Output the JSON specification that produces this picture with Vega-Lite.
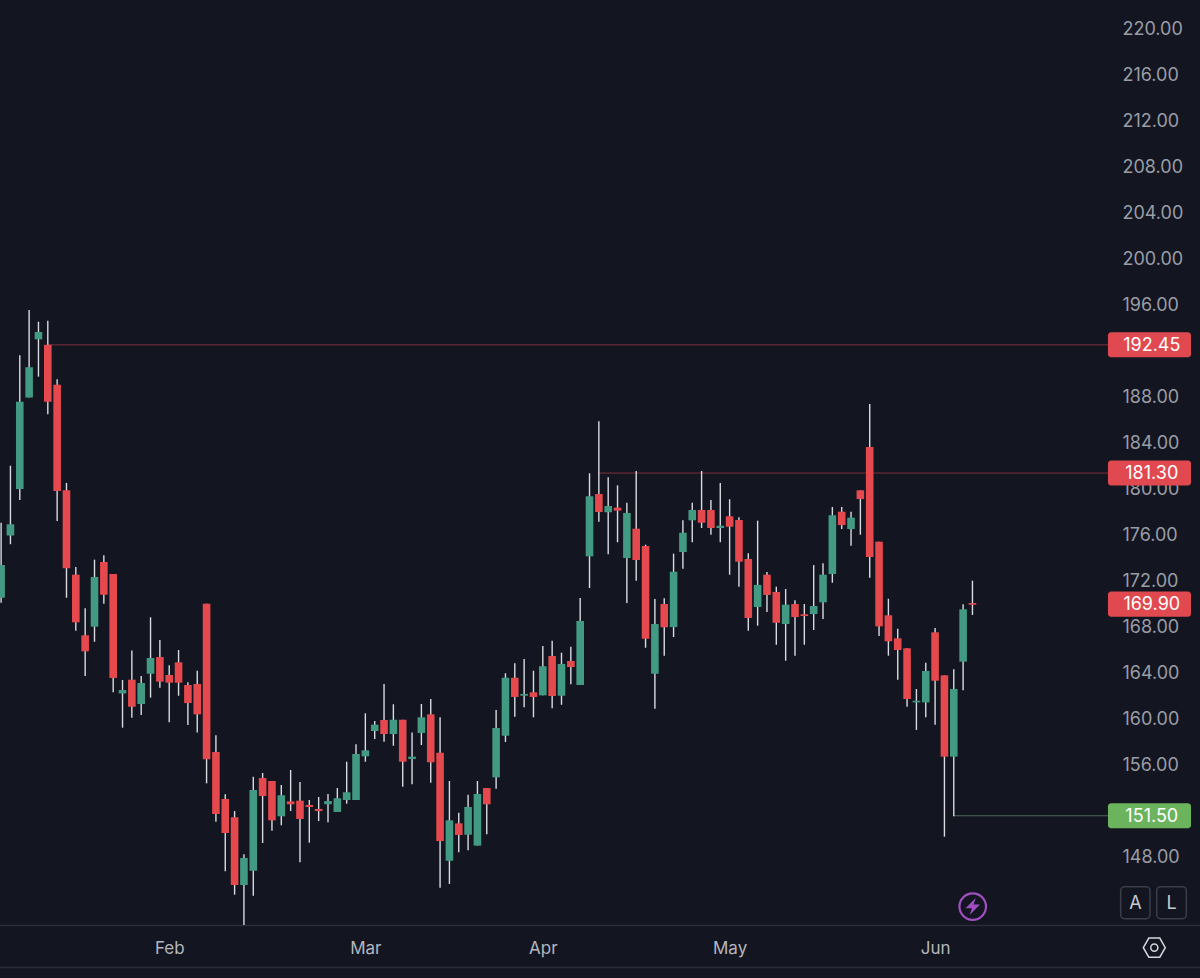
{
  "$schema": "https://vega.github.io/schema/vega-lite/v6.json",
  "width": 1109,
  "height": 925,
  "autosize": "none",
  "padding": {"left": 0, "top": 0, "right": 91, "bottom": 53},
  "background": "#131621",
  "datasets": {
    "candles": [
      {"i":0,"d":"up","o":170.46,"h":176.98,"l":170.03,"c":173.30},
      {"i":1,"d":"up","o":175.86,"h":181.94,"l":175.11,"c":176.85},
      {"i":2,"d":"up","o":179.92,"h":191.54,"l":178.96,"c":187.50},
      {"i":3,"d":"up","o":187.88,"h":195.48,"l":187.88,"c":190.50},
      {"i":4,"d":"up","o":192.93,"h":194.46,"l":189.68,"c":193.57},
      {"i":5,"d":"down","o":192.45,"h":194.55,"l":186.41,"c":187.50},
      {"i":6,"d":"down","o":188.98,"h":189.45,"l":177.13,"c":179.74},
      {"i":7,"d":"down","o":179.80,"h":180.44,"l":170.46,"c":173.02},
      {"i":8,"d":"down","o":172.46,"h":173.13,"l":167.59,"c":168.32},
      {"i":9,"d":"down","o":167.19,"h":169.54,"l":163.65,"c":165.80},
      {"i":10,"d":"up","o":167.94,"h":173.77,"l":166.63,"c":172.26},
      {"i":11,"d":"down","o":173.57,"h":174.15,"l":169.94,"c":170.72},
      {"i":12,"d":"down","o":172.52,"h":172.52,"l":162.23,"c":163.48},
      {"i":13,"d":"up","o":162.14,"h":163.30,"l":159.16,"c":162.43},
      {"i":14,"d":"down","o":163.33,"h":165.88,"l":160.03,"c":160.98},
      {"i":15,"d":"up","o":161.22,"h":163.65,"l":160.26,"c":163.04},
      {"i":16,"d":"up","o":163.85,"h":168.76,"l":161.77,"c":165.22},
      {"i":17,"d":"down","o":165.30,"h":166.78,"l":162.63,"c":163.16},
      {"i":18,"d":"down","o":163.74,"h":164.58,"l":159.63,"c":163.07},
      {"i":19,"d":"down","o":164.84,"h":165.91,"l":161.94,"c":163.07},
      {"i":20,"d":"down","o":162.87,"h":163.10,"l":159.39,"c":161.30},
      {"i":21,"d":"down","o":162.96,"h":164.11,"l":158.75,"c":160.32},
      {"i":22,"d":"down","o":169.94,"h":169.94,"l":154.32,"c":156.41},
      {"i":23,"d":"down","o":157.04,"h":158.50,"l":150.98,"c":151.65},
      {"i":24,"d":"down","o":152.96,"h":153.36,"l":146.67,"c":150.00},
      {"i":25,"d":"down","o":151.37,"h":151.91,"l":144.64,"c":145.48},
      {"i":26,"d":"up","o":145.48,"h":148.15,"l":142.00,"c":147.83},
      {"i":27,"d":"up","o":146.72,"h":154.90,"l":144.55,"c":153.74},
      {"i":28,"d":"down","o":154.78,"h":155.22,"l":149.13,"c":153.22},
      {"i":29,"d":"down","o":154.52,"h":154.52,"l":150.20,"c":151.10},
      {"i":30,"d":"up","o":151.45,"h":154.17,"l":150.67,"c":153.28},
      {"i":31,"d":"down","o":152.75,"h":155.48,"l":151.91,"c":152.50},
      {"i":32,"d":"down","o":152.81,"h":154.43,"l":147.45,"c":151.22},
      {"i":33,"d":"down","o":152.44,"h":152.87,"l":149.16,"c":152.26},
      {"i":34,"d":"down","o":152.09,"h":153.13,"l":151.04,"c":151.91},
      {"i":35,"d":"up","o":152.50,"h":153.39,"l":150.93,"c":152.78},
      {"i":36,"d":"up","o":151.83,"h":153.91,"l":151.83,"c":153.02},
      {"i":37,"d":"up","o":152.87,"h":156.20,"l":152.55,"c":153.54},
      {"i":38,"d":"up","o":152.87,"h":157.71,"l":152.87,"c":156.87},
      {"i":39,"d":"up","o":156.67,"h":160.41,"l":156.20,"c":157.19},
      {"i":40,"d":"up","o":158.87,"h":159.74,"l":158.17,"c":159.42},
      {"i":41,"d":"down","o":159.83,"h":162.96,"l":157.94,"c":158.61},
      {"i":42,"d":"up","o":158.61,"h":161.19,"l":157.59,"c":159.85},
      {"i":43,"d":"down","o":159.85,"h":159.85,"l":154.03,"c":156.20},
      {"i":44,"d":"up","o":156.43,"h":158.75,"l":154.23,"c":156.64},
      {"i":45,"d":"up","o":158.70,"h":161.22,"l":157.65,"c":160.06},
      {"i":46,"d":"down","o":160.32,"h":161.65,"l":154.37,"c":156.15},
      {"i":47,"d":"down","o":156.98,"h":160.06,"l":145.25,"c":149.30},
      {"i":48,"d":"up","o":147.59,"h":154.52,"l":145.57,"c":151.10},
      {"i":49,"d":"down","o":150.84,"h":151.77,"l":148.32,"c":149.83},
      {"i":50,"d":"up","o":149.85,"h":153.33,"l":148.50,"c":152.26},
      {"i":51,"d":"up","o":148.90,"h":154.52,"l":148.90,"c":153.39},
      {"i":52,"d":"down","o":153.91,"h":153.91,"l":149.89,"c":152.50},
      {"i":53,"d":"up","o":154.84,"h":160.70,"l":153.85,"c":159.13},
      {"i":54,"d":"up","o":158.46,"h":163.89,"l":157.91,"c":163.50},
      {"i":55,"d":"down","o":163.50,"h":164.76,"l":160.11,"c":161.83},
      {"i":56,"d":"up","o":161.94,"h":165.13,"l":160.93,"c":162.09},
      {"i":57,"d":"down","o":162.23,"h":164.11,"l":160.06,"c":161.83},
      {"i":58,"d":"up","o":161.97,"h":166.26,"l":161.97,"c":164.50},
      {"i":59,"d":"down","o":165.39,"h":166.72,"l":160.84,"c":161.91},
      {"i":60,"d":"up","o":161.94,"h":165.68,"l":161.15,"c":164.70},
      {"i":61,"d":"down","o":164.96,"h":166.20,"l":162.93,"c":164.43},
      {"i":62,"d":"up","o":162.87,"h":170.43,"l":162.87,"c":168.44},
      {"i":63,"d":"up","o":174.06,"h":181.28,"l":171.30,"c":179.28},
      {"i":64,"d":"down","o":179.48,"h":185.80,"l":177.07,"c":177.91},
      {"i":65,"d":"up","o":177.89,"h":180.93,"l":174.23,"c":178.43},
      {"i":66,"d":"down","o":178.29,"h":180.23,"l":175.28,"c":178.03},
      {"i":67,"d":"up","o":173.91,"h":178.72,"l":170.00,"c":177.83},
      {"i":68,"d":"down","o":176.46,"h":181.48,"l":171.94,"c":173.74},
      {"i":69,"d":"down","o":174.96,"h":175.07,"l":166.11,"c":166.90},
      {"i":70,"d":"up","o":163.85,"h":170.35,"l":160.81,"c":168.17},
      {"i":71,"d":"down","o":169.91,"h":170.41,"l":165.42,"c":167.89},
      {"i":72,"d":"up","o":167.91,"h":174.29,"l":167.04,"c":172.72},
      {"i":73,"d":"up","o":174.43,"h":177.19,"l":172.98,"c":176.11},
      {"i":74,"d":"up","o":177.19,"h":178.72,"l":175.28,"c":178.09},
      {"i":75,"d":"down","o":178.09,"h":181.48,"l":176.52,"c":176.98},
      {"i":76,"d":"down","o":178.09,"h":178.96,"l":175.94,"c":176.52},
      {"i":77,"d":"up","o":176.52,"h":180.44,"l":175.28,"c":176.72},
      {"i":78,"d":"down","o":177.54,"h":179.02,"l":172.46,"c":176.63},
      {"i":79,"d":"down","o":177.22,"h":177.45,"l":171.42,"c":173.59},
      {"i":80,"d":"down","o":173.83,"h":174.32,"l":167.59,"c":168.70},
      {"i":81,"d":"up","o":169.65,"h":177.16,"l":168.03,"c":171.57},
      {"i":82,"d":"down","o":172.46,"h":172.70,"l":169.22,"c":170.70},
      {"i":83,"d":"down","o":170.96,"h":171.42,"l":166.37,"c":168.28},
      {"i":84,"d":"up","o":168.17,"h":171.22,"l":164.98,"c":169.85},
      {"i":85,"d":"down","o":169.91,"h":170.23,"l":165.42,"c":168.78},
      {"i":86,"d":"down","o":169.02,"h":169.91,"l":166.37,"c":168.87},
      {"i":87,"d":"up","o":169.04,"h":173.30,"l":167.65,"c":169.74},
      {"i":88,"d":"up","o":170.06,"h":173.45,"l":168.61,"c":172.46},
      {"i":89,"d":"up","o":172.52,"h":178.35,"l":171.76,"c":177.63},
      {"i":90,"d":"down","o":177.94,"h":178.35,"l":176.43,"c":176.78},
      {"i":91,"d":"up","o":176.43,"h":177.94,"l":174.98,"c":177.42},
      {"i":92,"d":"down","o":179.80,"h":179.80,"l":175.94,"c":179.04},
      {"i":93,"d":"down","o":183.57,"h":187.30,"l":172.20,"c":174.00},
      {"i":94,"d":"down","o":175.33,"h":175.33,"l":167.13,"c":167.97},
      {"i":95,"d":"down","o":168.93,"h":170.37,"l":165.42,"c":166.67},
      {"i":96,"d":"down","o":166.93,"h":167.77,"l":163.33,"c":165.91},
      {"i":97,"d":"down","o":166.06,"h":166.06,"l":160.98,"c":161.65},
      {"i":98,"d":"up","o":161.36,"h":162.52,"l":158.96,"c":161.50},
      {"i":99,"d":"up","o":161.36,"h":164.81,"l":160.06,"c":164.09},
      {"i":100,"d":"down","o":167.45,"h":167.83,"l":159.42,"c":163.24},
      {"i":101,"d":"down","o":163.71,"h":163.71,"l":149.68,"c":156.64},
      {"i":102,"d":"up","o":156.64,"h":164.24,"l":151.45,"c":162.52},
      {"i":103,"d":"up","o":164.90,"h":169.89,"l":162.41,"c":169.45},
      {"i":104,"d":"down","o":170.00,"h":171.94,"l":168.96,"c":169.85}
    ],
    "levels": [
      {"level":"192.45","price":192.45,"from":5,"to":118.5,"tagStart":118.51,"tagEnd":127.4,"tagLo":191.36,"tagHi":193.54,"labelAt":123.2,"kind":"red"},
      {"level":"181.30","price":181.30,"from":64,"to":118.5,"tagStart":118.51,"tagEnd":127.4,"tagLo":180.21,"tagHi":182.39,"labelAt":123.2,"kind":"red"},
      {"level":"169.90","price":169.90,"from":104,"to":104,"tagStart":118.51,"tagEnd":127.4,"tagLo":168.81,"tagHi":170.99,"labelAt":123.2,"kind":"red"},
      {"level":"151.50","price":151.50,"from":102,"to":118.5,"tagStart":118.51,"tagEnd":127.4,"tagLo":150.41,"tagHi":152.59,"labelAt":123.2,"kind":"green"}
    ],
    "frames": [
      {"price":141.96,"from":-0.118,"to":128.4},
      {"price":138.30,"from":-0.118,"to":128.4}
    ],
    "buttons": [
      {"label":"A","from":119.87,"to":123.01,"lo":142.55,"hi":145.33,"at":121.44,"mid":143.92},
      {"label":"L","from":123.73,"to":126.9,"lo":142.55,"hi":145.33,"at":125.31,"mid":143.92}
    ],
    "icons": [
      {"name":"bolt","at":104.03,"price":143.6},
      {"name":"settings","at":123.47,"price":140.03}
    ]
  },
  "encoding": {
    "x": {
      "field": "i",
      "type": "quantitative",
      "scale": {"domain": [-0.118, 118.62], "nice": false, "zero": false, "padding": 0},
      "axis": {
        "title": null,
        "orient": "bottom",
        "values": [18, 39, 58, 78, 100],
        "labelExpr": "datum.value == 18 ? 'Feb' : datum.value == 39 ? 'Mar' : datum.value == 58 ? 'Apr' : datum.value == 78 ? 'May' : 'Jun'",
        "grid": false,
        "domain": false,
        "ticks": false,
        "labelPadding": 15,
        "labelFont": "Inter",
        "labelFontSize": 17,
        "labelColor": "#b4b6bd",
        "labelBound": false,
        "labelFlush": false,
        "labelOverlap": false
      }
    },
    "y": {
      "type": "quantitative",
      "scale": {"domain": [142.0, 222.435], "nice": false, "zero": false},
      "axis": {
        "title": null,
        "orient": "right",
        "values": [148, 156, 160, 164, 168, 172, 176, 180, 184, 188, 196, 200, 204, 208, 212, 216, 220],
        "format": ".2f",
        "grid": false,
        "domain": false,
        "ticks": false,
        "labelPadding": 13,
        "labelOffset": 1,
        "labelFont": "Inter",
        "labelFontSize": 18,
        "labelColor": "#9a9da6",
        "labelBound": false,
        "labelFlush": false,
        "labelOverlap": false
      }
    }
  },
  "layer": [
    {
      "data": {"name": "frames"},
      "mark": {"type": "rule", "stroke": "#2b2e3a", "strokeWidth": 1.5},
      "encoding": {
        "x": {"field": "from"},
        "x2": {"field": "to"},
        "y": {"field": "price"}
      }
    },
    {
      "data": {"name": "levels"},
      "transform": [{"filter": "datum.to > datum.from"}],
      "mark": {"type": "rule", "strokeWidth": 1},
      "encoding": {
        "x": {"field": "from"},
        "x2": {"field": "to"},
        "y": {"field": "price"},
        "stroke": {
          "field": "kind",
          "scale": {"domain": ["red", "green"], "range": ["#7d2f39", "#4b6a52"]},
          "legend": null
        }
      }
    },
    {
      "data": {"name": "candles"},
      "mark": {"type": "rule", "stroke": "#d9dbe1", "strokeWidth": 1.4},
      "encoding": {
        "y": {"field": "l"},
        "y2": {"field": "h"}
      }
    },
    {
      "data": {"name": "candles"},
      "mark": {"type": "bar", "size": 7.6, "orient": "vertical"},
      "encoding": {
        "y": {"field": "o"},
        "y2": {"field": "c"},
        "fill": {
          "field": "d",
          "scale": {"domain": ["up", "down"], "range": ["#429a82", "#e5484d"]},
          "legend": null
        }
      }
    },
    {
      "data": {"name": "levels"},
      "mark": {"type": "rect", "cornerRadius": 3},
      "encoding": {
        "x": {"field": "tagStart"},
        "x2": {"field": "tagEnd"},
        "y": {"field": "tagLo"},
        "y2": {"field": "tagHi"},
        "fill": {
          "field": "kind",
          "scale": {"domain": ["red", "green"], "range": ["#e0494f", "#6cb35e"]},
          "legend": null
        }
      }
    },
    {
      "data": {"name": "levels"},
      "mark": {"type": "text", "font": "Inter", "fontSize": 18, "fill": "#ffffff", "align": "center", "baseline": "middle", "dy": 1},
      "encoding": {
        "x": {"field": "labelAt"},
        "y": {"field": "price"},
        "text": {"field": "level"}
      }
    },
    {
      "data": {"name": "buttons"},
      "mark": {"type": "rect", "cornerRadius": 4, "fillOpacity": 0, "stroke": "#3b3e49", "strokeWidth": 1.5},
      "encoding": {
        "x": {"field": "from"},
        "x2": {"field": "to"},
        "y": {"field": "lo"},
        "y2": {"field": "hi"}
      }
    },
    {
      "data": {"name": "buttons"},
      "mark": {"type": "text", "font": "Inter", "fontSize": 18, "fill": "#c9cbd1", "align": "center", "baseline": "middle", "dy": 1},
      "encoding": {
        "x": {"field": "at"},
        "y": {"field": "mid"},
        "text": {"field": "label"}
      }
    },
    {
      "data": {"name": "icons"},
      "transform": [{"filter": "datum.name == 'bolt'"}],
      "mark": {"type": "point", "shape": "circle", "size": 707, "filled": false, "stroke": "#a04fc2", "strokeWidth": 2.2, "opacity": 1},
      "encoding": {
        "x": {"field": "at"},
        "y": {"field": "price"}
      }
    },
    {
      "data": {"name": "icons"},
      "transform": [{"filter": "datum.name == 'bolt'"}],
      "mark": {"type": "point", "shape": "M0.35,-1 L-0.85,0.2 L-0.1,0.2 L-0.35,1 L0.85,-0.25 L0.1,-0.25 Z", "size": 290, "filled": true, "fill": "#a04fc2", "opacity": 1},
      "encoding": {
        "x": {"field": "at"},
        "y": {"field": "price"}
      }
    },
    {
      "data": {"name": "icons"},
      "transform": [{"filter": "datum.name == 'settings'"}],
      "mark": {"type": "point", "shape": "M-1,0 L-0.5,-0.87 L0.5,-0.87 L1,0 L0.5,0.87 L-0.5,0.87 Z", "size": 480, "filled": false, "stroke": "#d4d6dc", "strokeWidth": 1.5, "opacity": 1},
      "encoding": {
        "x": {"field": "at"},
        "y": {"field": "price"}
      }
    },
    {
      "data": {"name": "icons"},
      "transform": [{"filter": "datum.name == 'settings'"}],
      "mark": {"type": "point", "shape": "circle", "size": 50, "filled": false, "stroke": "#d4d6dc", "strokeWidth": 1.5, "opacity": 1},
      "encoding": {
        "x": {"field": "at"},
        "y": {"field": "price"}
      }
    }
  ],
  "resolve": {"scale": {"fill": "independent"}},
  "config": {"view": {"stroke": null}}
}
